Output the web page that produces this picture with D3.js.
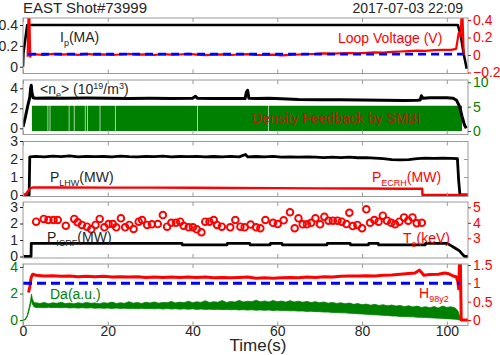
<!DOCTYPE html>
<html><head><meta charset="utf-8">
<script src="https://cdn.jsdelivr.net/npm/d3@7"></script>
<style>body{margin:0;background:#fff} svg text{font-family:"Liberation Sans",Arial,sans-serif}</style>
</head><body><svg id="c" width="500" height="355"></svg>
<script>
// ---------------- DATA ----------------
const title = "EAST Shot#73999";
const dateText = "2017-07-03 22:09";
const xTicks = [0, 20, 40, 60, 80, 100];

// Panel 1: plasma current (MA) & loop voltage (V)
const ipT = [0, 0.1, 1.0, 102.6, 103.3, 104.0, 104.7];
const ipV = [0.0, 0.13, 0.4, 0.4, 0.3, 0.12, -0.02];
const vlT = [1.1, 1.3, 1.5, 1.7, 2.0, 3, 5, 7, 9, 11, 13, 15, 17, 19, 21, 23, 25, 27, 29, 31, 33, 35, 37, 39, 41, 43, 45, 47, 49, 51, 53, 55, 57, 59, 61, 63, 65, 67, 69, 71, 73, 75, 77, 79, 81, 83, 85, 87, 89, 91, 93, 95, 97, 99, 101, 102.2, 102.8, 103.2, 103.5, 103.7, 104.0];
const vlV = [-0.02, 0.45, 0.45, -0.02, 0.01, 0.008, 0.0, 0.012, 0.005, 0.01, 0.002, 0.012, 0.005, 0.008, 0.0, 0.006, 0.012, 0.004, 0.008, 0.0, 0.01, 0.004, 0.006, 0.012, 0.005, -0.002, 0.004, 0.008, 0.0, 0.006, 0.01, 0.002, 0.0, 0.004, -0.004, 0.002, 0.006, 0.01, 0.012, 0.018, 0.015, 0.02, 0.022, 0.018, 0.025, 0.03, 0.028, 0.035, 0.04, 0.045, 0.05, 0.048, 0.055, 0.06, 0.058, 0.07, 0.25, 0.22, 0.45, 0.45, 0.0];
const vlRefT = [1.2, 104];
const vlRefV = [0.01, 0.01];

// Panel 2: line averaged density & SMBI
const neT = [0, 0.6, 1.2, 1.6, 1.8, 1.95, 2.1, 2.4, 3, 6, 10, 15, 20, 25, 30, 35, 40, 40.7, 41.2, 45, 50, 52.4, 52.7, 53.0, 53.3, 55, 58, 61, 65, 70, 75, 80, 85, 90, 93, 93.7, 94.0, 94.4, 96, 98, 100, 101.5, 102.3, 103, 103.6, 104.2, 104.6];
const neV = [0.15, 1.2, 2.4, 3.1, 4.0, 4.3, 3.6, 3.05, 3.0, 3.02, 3.0, 3.02, 3.0, 2.98, 3.0, 2.98, 3.0, 3.2, 3.0, 2.98, 2.97, 2.97, 3.6, 3.8, 3.0, 2.98, 3.0, 2.95, 2.88, 2.85, 2.85, 2.82, 2.8, 2.78, 2.8, 2.82, 3.25, 3.0, 3.05, 3.05, 3.05, 3.0, 2.8, 2.2, 1.2, 0.3, 0.0];
const smbiT = [0, 2.1, 5.8, 5.95, 6.3, 6.45, 10.8, 10.95, 12.0, 12.15, 14.6, 14.75, 15.1, 15.25, 18.1, 18.25, 21.7, 21.85, 41.1, 41.25, 57.8, 57.95, 103.6, 105];
const smbiV = [0, 5.2, 0, 5.2, 0, 5.2, 0, 5.2, 0, 5.2, 0, 5.2, 0, 5.2, 0, 5.2, 0, 5.2, 0, 5.2, 0, 5.2, 0, 0];

// Panel 3: LHW & ECRH power (MW)
const lhwT = [0, 1.45, 1.6, 3, 5, 7, 9, 11, 13, 15, 17, 19, 21, 23, 25, 27, 29, 31, 33, 35, 37, 39, 41, 43, 45, 47, 49, 51, 52.5, 53, 55, 57, 59, 61, 63, 65, 67, 69, 71, 73, 75, 77, 79, 81, 83, 85, 87, 89, 91, 93, 95, 97, 99, 101, 102.5, 102.8, 103.1, 105];
const lhwV = [0, 0, 2.12, 2.15, 2.12, 2.16, 2.13, 2.17, 2.12, 2.15, 2.13, 2.14, 2.12, 2.16, 2.13, 2.12, 2.15, 2.13, 2.16, 2.12, 2.14, 2.13, 2.15, 2.12, 2.14, 2.12, 2.15, 2.12, 2.25, 2.12, 2.14, 2.12, 2.15, 2.1, 2.12, 2.1, 2.12, 2.1, 2.08, 2.1, 2.08, 2.1, 2.07, 2.08, 2.05, 2.02, 1.97, 1.95, 1.96, 2.02, 2.05, 2.03, 2.05, 2.03, 2.02, 0.8, 0.0, 0];
const ecrhT = [0, 0.5, 1.7, 2.5, 10, 20, 30, 40, 50, 60, 70, 80, 90, 94.2, 94.25, 105];
const ecrhV = [0, 0, 0.38, 0.42, 0.42, 0.41, 0.41, 0.4, 0.39, 0.38, 0.37, 0.36, 0.35, 0.35, 0.0, 0.0];

// Panel 4: ICRF power (MW) & Te (keV)
const icrfT = [0, 1.9, 1.95, 37.5, 37.6, 48.1, 48.2, 53.5, 53.6, 58.3, 58.4, 61.1, 61.2, 71.7, 71.8, 77.2, 77.3, 81.5, 81.6, 83.8, 83.9, 94.9, 95.0, 100, 101, 102, 103, 103.8, 104.2, 105];
const icrfV = [0, 0, 0.8, 0.8, 0.7, 0.7, 0.8, 0.8, 0.7, 0.7, 0.8, 0.8, 0.7, 0.7, 0.8, 0.8, 0.7, 0.7, 0.8, 0.8, 0.7, 0.7, 0.8, 0.8, 0.66, 0.5, 0.34, 0.1, 0, 0];
const teT = [3.1, 4.9, 6.0, 7.2, 8.2, 10.1, 12.1, 12.9, 13.9, 15.1, 16.1, 17.1, 18.1, 19.2, 20.2, 21.2, 22.0, 23.1, 24.1, 25.1, 26.1, 27.3, 28.1, 29.3, 30.4, 31.8, 33.0, 34.0, 35.0, 36.1, 37.1, 37.9, 39.1, 40.1, 41.0, 42.1, 43.0, 44.0, 45.0, 45.8, 46.9, 48.9, 50.1, 51.3, 52.3, 53.7, 55.0, 56.0, 57.2, 59.0, 60.1, 61.5, 63.0, 64.1, 65.0, 66.0, 67.0, 68.0, 69.0, 70.1, 71.1, 72.1, 73.1, 74.2, 75.2, 76.3, 77.0, 77.8, 78.9, 80.0, 81.0, 81.9, 82.9, 83.9, 84.9, 85.9, 86.9, 87.8, 88.8, 89.9, 90.9, 91.9, 92.9, 94.1];
const teV = [4.07, 4.25, 4.18, 4.18, 4.18, 3.81, 4.25, 4.03, 3.86, 3.75, 3.58, 3.86, 4.25, 3.71, 3.92, 3.92, 3.71, 4.29, 3.71, 3.86, 3.6, 4.07, 4.18, 3.86, 3.9, 3.92, 4.5, 3.75, 4.0, 4.0, 4.07, 3.81, 3.71, 3.71, 3.58, 3.39, 4.07, 4.07, 4.18, 3.86, 3.75, 3.71, 4.18, 3.75, 3.71, 3.89, 3.71, 3.65, 4.18, 4.0, 3.92, 4.16, 4.68, 3.65, 4.29, 3.9, 3.9, 4.0, 4.29, 3.9, 4.39, 4.14, 4.14, 4.14, 4.07, 3.92, 4.65, 3.79, 3.86, 3.65, 4.87, 4.0, 4.18, 4.07, 4.46, 4.14, 4.0, 3.9, 4.07, 4.35, 4.14, 4.35, 3.97, 4.0];

// Panel 5: D-alpha (a.u.) envelope & H98y2
const daT = [0, 0.5, 1.0, 1.5, 1.8, 2.0, 2.2, 2.6, 3, 4, 5, 6, 7, 8, 9, 10, 11, 12, 13, 14, 15, 16, 17, 18, 19, 20, 21, 22, 23, 24, 25, 26, 27, 28, 29, 30, 31, 32, 33, 34, 35, 36, 37, 38, 39, 40, 41, 42, 43, 44, 45, 46, 47, 48, 49, 50, 51, 52, 53, 54, 55, 56, 57, 58, 59, 60, 61, 62, 63, 64, 65, 66, 67, 68, 69, 70, 71, 72, 73, 74, 75, 76, 77, 78, 79, 80, 81, 82, 83, 84, 85, 86, 87, 88, 89, 90, 91, 92, 93, 94, 95, 96, 97, 98, 99, 100, 101, 102, 102.6, 103.0, 103.4, 105];
const daHi = [0, 0.05, 0.35, 1.0, 1.5, 1.95, 1.6, 1.3, 1.3, 1.25, 1.32, 1.22, 1.3, 1.26, 1.34, 1.24, 1.28, 1.22, 1.3, 1.25, 1.33, 1.26, 1.29, 1.23, 1.31, 1.27, 1.35, 1.25, 1.3, 1.26, 1.38, 1.27, 1.32, 1.25, 1.34, 1.28, 1.36, 1.27, 1.33, 1.3, 1.4, 1.29, 1.35, 1.3, 1.42, 1.31, 1.37, 1.33, 1.45, 1.32, 1.38, 1.34, 1.47, 1.33, 1.4, 1.35, 1.48, 1.36, 1.42, 1.38, 1.5, 1.37, 1.44, 1.36, 1.47, 1.38, 1.43, 1.35, 1.46, 1.36, 1.42, 1.34, 1.4, 1.32, 1.38, 1.3, 1.36, 1.27, 1.33, 1.25, 1.3, 1.22, 1.28, 1.18, 1.24, 1.15, 1.2, 1.12, 1.18, 1.1, 1.15, 1.07, 1.13, 1.05, 1.1, 1.0, 1.08, 0.98, 1.05, 0.95, 1.0, 0.92, 1.02, 0.9, 1.05, 0.95, 1.0, 0.9, 0.7, 0.3, 0.05, 0];
const daLo = [0, 0, 0.25, 0.8, 1.2, 1.5, 1.2, 1.0, 0.95, 0.95, 0.92, 0.96, 0.93, 0.95, 0.92, 0.94, 0.91, 0.93, 0.9, 0.93, 0.9, 0.92, 0.89, 0.91, 0.88, 0.9, 0.87, 0.9, 0.87, 0.89, 0.86, 0.88, 0.85, 0.88, 0.85, 0.87, 0.84, 0.86, 0.83, 0.86, 0.83, 0.85, 0.82, 0.84, 0.81, 0.84, 0.8, 0.83, 0.8, 0.82, 0.79, 0.81, 0.78, 0.8, 0.77, 0.79, 0.76, 0.78, 0.75, 0.77, 0.74, 0.76, 0.73, 0.75, 0.72, 0.74, 0.71, 0.72, 0.69, 0.7, 0.67, 0.68, 0.65, 0.66, 0.63, 0.63, 0.6, 0.6, 0.57, 0.57, 0.54, 0.54, 0.51, 0.5, 0.47, 0.46, 0.43, 0.42, 0.39, 0.38, 0.35, 0.34, 0.31, 0.3, 0.27, 0.27, 0.24, 0.24, 0.21, 0.2, 0.18, 0.17, 0.15, 0.14, 0.12, 0.1, 0.08, 0.06, 0.03, 0, 0, 0];
const h98T = [1.3, 1.6, 1.9, 2.3, 3, 5, 7, 9, 11, 13, 15, 17, 19, 21, 23, 25, 27, 29, 31, 33, 35, 37, 39, 41, 43, 45, 47, 49, 51, 53, 55, 57, 59, 61, 63, 65, 67, 69, 71, 73, 75, 77, 79, 81, 83, 85, 87, 89, 91, 92.5, 93.5, 94, 94.6, 96, 98, 99.5, 100.5, 101.5, 102.2, 102.6, 102.8, 103.0, 103.2, 103.4, 105];
const h98V = [0.75, 0.9, 1.15, 1.25, 1.22, 1.2, 1.21, 1.19, 1.2, 1.18, 1.19, 1.18, 1.19, 1.17, 1.18, 1.17, 1.18, 1.16, 1.17, 1.16, 1.17, 1.16, 1.17, 1.16, 1.17, 1.15, 1.16, 1.15, 1.16, 1.17, 1.14, 1.15, 1.14, 1.15, 1.16, 1.15, 1.17, 1.16, 1.18, 1.17, 1.19, 1.2, 1.2, 1.21, 1.2, 1.22, 1.23, 1.25, 1.27, 1.28, 1.36, 1.3, 1.22, 1.24, 1.25, 1.28, 1.26, 1.2, 1.18, 1.05, 0.85, 1.6, 1.6, 0.0, 0.0];
const h98RefT = [0, 103];
const h98RefV = [1, 1];

// ---------------- DRAW ----------------
const RED = "#ff0000", GREEN = "#008000", BLUE = "#0000ff", BLACK = "#000000";
const AX = "#262626", FRAME = "#9a9a9a";
const svg = d3.select("#c");
const x = d3.scaleLinear().domain([0, 105]).range([23, 468]);
const panels = [
  {top: 18, bottom: 73.5},
  {top: 80, bottom: 134.5},
  {top: 141.5, bottom: 196.5},
  {top: 202, bottom: 258},
  {top: 264, bottom: 325.5}
];
const yIp = d3.scaleLinear().domain([0, 0.4]).range([66.7, 25]);
const yVl = d3.scaleLinear().domain([0, 0.4]).range([55, 20]);
const yNe = d3.scaleLinear().domain([0, 4]).range([128.3, 88.3]);
const ySm = d3.scaleLinear().domain([0, 10]).range([131, 82.3]);
const yP3 = d3.scaleLinear().domain([0, 2]).range([195, 159]);
const yP4 = d3.scaleLinear().domain([0, 3]).range([256.5, 207]);
const yTe = d3.scaleLinear().domain([3, 5]).range([238.3, 207.3]);
const yDa = d3.scaleLinear().domain([0, 4]).range([320, 267]);
const yH = d3.scaleLinear().domain([0, 1.5]).range([320, 265]);

const defs = svg.append("defs");
panels.forEach((p, i) => {
  defs.append("clipPath").attr("id", "clip" + i).append("rect")
    .attr("x", x(0)).attr("y", p.top).attr("width", x(105) - x(0)).attr("height", p.bottom - p.top);
});
const zip = (t, v) => t.map((d, i) => [d, v[i]]);
const fmt = d3.format("~g");

const layers = panels.map((p, i) => svg.append("g").attr("clip-path", `url(#clip${i})`));

function line(g, t, v, ys, color, w, dash) {
  const pth = g.append("path").datum(zip(t, v)).attr("fill", "none").attr("stroke", color)
    .attr("stroke-width", w).attr("stroke-linejoin", "round")
    .attr("d", d3.line().x(d => x(d[0])).y(d => ys(d[1])));
  if (dash) pth.attr("stroke-dasharray", dash);
  return pth;
}

// Panel 1
line(layers[0], ipT, ipV, yIp, BLACK, 2.6);
line(layers[0], vlT, vlV, yVl, RED, 2.2);
line(layers[0], vlRefT, vlRefV, yVl, BLUE, 2.6, "8,5");

// Panel 2
layers[1].append("path").datum(zip(smbiT, smbiV)).attr("fill", GREEN).attr("stroke", "none")
  .attr("d", d3.area().curve(d3.curveStepAfter).x(d => x(d[0])).y0(ySm(0)).y1(d => ySm(d[1])));
line(layers[1], neT, neV, yNe, BLACK, 3);

// Panel 3
line(layers[2], lhwT, lhwV, yP3, BLACK, 2.8);
line(layers[2], ecrhT, ecrhV, yP3, RED, 2.4);

// Panel 4
line(layers[3], icrfT, icrfV, yP4, BLACK, 2.8);
layers[3].selectAll("circle.te").data(zip(teT, teV)).enter().append("circle")
  .attr("cx", d => x(d[0])).attr("cy", d => yTe(d[1])).attr("r", 3.3)
  .attr("fill", "none").attr("stroke", RED).attr("stroke-width", 1.9);

// Panel 5
const daData = daT.map((d, i) => [d, daLo[i], daHi[i]]);
layers[4].append("path").datum(daData).attr("fill", GREEN).attr("stroke", GREEN).attr("stroke-width", 0.8)
  .attr("d", d3.area().x(d => x(d[0])).y0(d => yDa(d[1])).y1(d => yDa(d[2])));
line(layers[4], h98T, h98V, yH, RED, 3);
line(layers[4], h98RefT, h98RefV, yH, BLUE, 3, "9,5");

// Frames and axes
const fontAttr = g => g.attr("font-size", 14).attr("font-family", '"Liberation Sans",Arial,sans-serif');
function leftAxis(ys, vals, color) {
  const g = svg.append("g").attr("transform", `translate(${x(0)},0)`)
    .call(d3.axisLeft(ys).tickValues(vals).tickSize(3).tickPadding(2).tickFormat(fmt));
  g.select(".domain").remove();
  fontAttr(g);
  g.selectAll("line").attr("stroke", color);
  g.selectAll("text").attr("fill", color);
}
function rightAxis(ys, vals, color) {
  const g = svg.append("g").attr("transform", `translate(${x(105)},0)`)
    .call(d3.axisRight(ys).tickValues(vals).tickSize(3).tickPadding(2).tickFormat(fmt));
  g.select(".domain").remove();
  fontAttr(g);
  g.selectAll("line").attr("stroke", color);
  g.selectAll("text").attr("fill", color);
}
panels.forEach((p, i) => {
  const gb = svg.append("g").attr("transform", `translate(0,${p.bottom})`)
    .call(d3.axisBottom(x).tickValues(xTicks).tickSize(-4).tickPadding(1).tickFormat(i === 4 ? fmt : () => ""));
  gb.select(".domain").remove();
  fontAttr(gb);
  gb.selectAll("line").attr("stroke", FRAME);
  gb.selectAll("text").attr("fill", AX);
  const gt = svg.append("g").attr("transform", `translate(0,${p.top})`)
    .call(d3.axisTop(x).tickValues(xTicks).tickSize(-4).tickFormat(() => ""));
  gt.select(".domain").remove();
  gt.selectAll("line").attr("stroke", FRAME);
  svg.append("rect").attr("x", x(0)).attr("y", p.top).attr("width", x(105) - x(0)).attr("height", p.bottom - p.top)
    .attr("fill", "none").attr("stroke", FRAME).attr("stroke-width", 1);
});

leftAxis(yIp, [0, 0.2, 0.4], AX);
rightAxis(yVl, [-0.2, 0, 0.2, 0.4], RED);
leftAxis(yNe, [0, 2, 4], AX);
rightAxis(ySm, [0, 5, 10], GREEN);
leftAxis(yP3, [0, 1, 2, 3], AX);
svg.append("g").attr("transform", `translate(${x(105)},0)`)
  .call(d3.axisRight(yP3).tickValues([1, 2]).tickSize(-4).tickFormat(() => ""))
  .call(g => { g.select(".domain").remove(); g.selectAll("line").attr("stroke", FRAME); });
leftAxis(yP4, [0, 1, 2, 3], AX);
rightAxis(yTe, [3, 4, 5], RED);
leftAxis(yDa, [0, 2, 4], GREEN);
rightAxis(yH, [0, 0.5, 1, 1.5], RED);

// Texts
function label(xp, yp, parts, color, size) {
  const t = svg.append("text").attr("x", xp).attr("y", yp).attr("fill", color).attr("font-size", size || 14);
  parts.forEach(pt => {
    const s = t.append("tspan").text(pt.t);
    if (pt.sub) s.attr("font-size", 9).attr("dy", 4);
    if (pt.sup) s.attr("font-size", 9).attr("dy", -5);
    if (pt.back) s.attr("dy", pt.back);
  });
  return t;
}
svg.append("text").attr("x", 23).attr("y", 13).attr("font-size", 15).attr("fill", AX).text(title);
svg.append("text").attr("x", 463).attr("y", 13).attr("font-size", 14).attr("fill", AX).attr("text-anchor", "end").text(dateText);

label(60, 42, [{t: "I"}, {t: "p", sub: true}, {t: "(MA)", back: -4}], AX);
label(338, 43, [{t: "Loop Voltage (V)"}], RED);
label(40, 93.5, [{t: "<n"}, {t: "e", sub: true}, {t: "> (10", back: -4}, {t: "19", sup: true}, {t: "/m", back: 5}, {t: "3", sup: true}, {t: ")", back: 5}], AX);
label(252, 123, [{t: "Density Feedback by SMBI"}], "#b3200a");
label(50, 182, [{t: "P"}, {t: "LHW", sub: true}, {t: "(MW)", back: -4}], AX);
label(372, 182, [{t: "P"}, {t: "ECRH", sub: true}, {t: "(MW)", back: -4}], RED);
label(47, 241.5, [{t: "P"}, {t: "ICRF", sub: true}, {t: "(MW)", back: -4}], AX);
label(403, 242.5, [{t: "T"}, {t: "e", sub: true}, {t: "(keV)", back: -4}], RED);
label(50, 299, [{t: "Da(a.u.)"}], GREEN);
label(419, 297.5, [{t: "H"}, {t: "98y2", sub: true}], RED);
svg.append("text").attr("x", 258).attr("y", 351).attr("font-size", 17).attr("fill", AX).attr("text-anchor", "middle").text("Time(s)");
</script></body></html>
